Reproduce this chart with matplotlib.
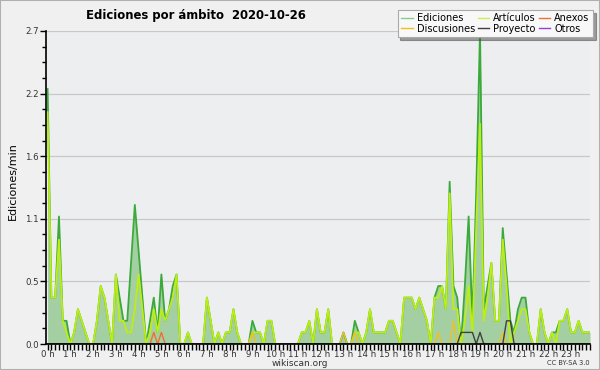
import numpy as np
import matplotlib
matplotlib.use("Agg")
import matplotlib.pyplot as plt
from matplotlib.ticker import FixedLocator, MultipleLocator, FuncFormatter
from matplotlib.lines import Line2D
from matplotlib.patches import Rectangle

# ediciones/min por tramo de 10 minutos (144 tramos)
ediciones = [
    2.2, 0.4, 0.4, 1.1, 0.2, 0.2, 0.0, 0.1, 0.3, 0.2, 0.1, 0.0,
    0.0, 0.2, 0.5, 0.4, 0.2, 0.0, 0.6, 0.4, 0.2, 0.2, 0.7, 1.2,
    0.8, 0.4, 0.0, 0.2, 0.4, 0.1, 0.6, 0.2, 0.3, 0.5, 0.6, 0.0,
    0.0, 0.1, 0.0, 0.0, 0.0, 0.0, 0.4, 0.2, 0.0, 0.1, 0.0, 0.1,
    0.1, 0.3, 0.1, 0.0, 0.0, 0.0, 0.2, 0.1, 0.1, 0.0, 0.2, 0.2,
    0.0, 0.0, 0.0, 0.0, 0.0, 0.0, 0.0, 0.1, 0.1, 0.2, 0.0, 0.3,
    0.1, 0.1, 0.3, 0.0, 0.0, 0.0, 0.1, 0.0, 0.0, 0.2, 0.1, 0.0,
    0.1, 0.3, 0.1, 0.1, 0.1, 0.1, 0.2, 0.2, 0.1, 0.0, 0.4, 0.4,
    0.4, 0.3, 0.4, 0.3, 0.2, 0.0, 0.4, 0.5, 0.5, 0.3, 1.4, 0.5,
    0.4, 0.0, 0.5, 1.1, 0.2, 1.3, 2.7, 0.3, 0.5, 0.7, 0.2, 0.2,
    1.0, 0.6, 0.2, 0.1, 0.3, 0.4, 0.4, 0.1, 0.0, 0.0, 0.3, 0.1,
    0.0, 0.1, 0.1, 0.2, 0.2, 0.3, 0.1, 0.1, 0.2, 0.1, 0.1, 0.1,
]
articulos = [
    2.0, 0.4, 0.4, 0.9, 0.2, 0.1, 0.0, 0.1, 0.3, 0.2, 0.1, 0.0,
    0.0, 0.2, 0.5, 0.4, 0.2, 0.0, 0.6, 0.2, 0.2, 0.1, 0.1, 0.3,
    0.6, 0.3, 0.0, 0.1, 0.3, 0.1, 0.3, 0.2, 0.3, 0.4, 0.6, 0.0,
    0.0, 0.1, 0.0, 0.0, 0.0, 0.0, 0.4, 0.2, 0.0, 0.1, 0.0, 0.1,
    0.1, 0.3, 0.1, 0.0, 0.0, 0.0, 0.1, 0.1, 0.1, 0.0, 0.2, 0.2,
    0.0, 0.0, 0.0, 0.0, 0.0, 0.0, 0.0, 0.1, 0.1, 0.2, 0.0, 0.3,
    0.1, 0.1, 0.3, 0.0, 0.0, 0.0, 0.0, 0.0, 0.0, 0.1, 0.1, 0.0,
    0.1, 0.3, 0.1, 0.1, 0.1, 0.1, 0.2, 0.2, 0.1, 0.0, 0.4, 0.4,
    0.4, 0.3, 0.4, 0.3, 0.2, 0.0, 0.4, 0.4, 0.5, 0.3, 1.3, 0.3,
    0.3, 0.0, 0.2, 0.5, 0.1, 1.0, 1.9, 0.2, 0.4, 0.7, 0.2, 0.2,
    0.9, 0.5, 0.0, 0.1, 0.2, 0.3, 0.3, 0.1, 0.0, 0.0, 0.3, 0.1,
    0.0, 0.1, 0.0, 0.2, 0.2, 0.3, 0.1, 0.1, 0.2, 0.1, 0.1, 0.1,
]
# series pequeñas: {tramo: valor}
discusiones_pts = {54: 0.1, 78: 0.1, 81: 0.1, 103: 0.1, 107: 0.2, 120: 0.1}
anexos_pts = {28: 0.1, 30: 0.1}
proyecto_pts = {109: 0.1, 110: 0.1, 111: 0.1, 112: 0.1, 114: 0.1, 121: 0.2, 122: 0.2}
otros_pts = {}

N_BINS = len(ediciones)
hours = np.arange(N_BINS) / 6.0


def expand(pts):
    s = np.zeros(N_BINS)
    for k, v in pts.items():
        s[k] = v
    return s


discusiones = expand(discusiones_pts)
anexos = expand(anexos_pts)
proyecto = expand(proyecto_pts)
otros = expand(otros_pts)

C_FILL = "#a3cfa3"
C_ED = "#3aaa3a"
C_ART = "#bdee14"
C_DIS = "#f0c020"
C_ANX = "#f07030"
C_PRO = "#404040"
C_OTR = "#9040e0"

fig = plt.figure(figsize=(6, 3.7), dpi=100, facecolor="#f0f0f0")
ax = fig.add_axes([46 / 600, 26 / 370, (590 - 46) / 600, (344 - 31) / 370])
ax.set_facecolor("#edeef0")

ax.fill_between(hours, ediciones, 0, color=C_FILL, lw=0, zorder=1)
ax.plot(hours, ediciones, color=C_ED, lw=1.3, zorder=2)
ax.plot(hours, articulos, color=C_ART, lw=1.3, zorder=3)
ax.plot(hours, anexos, color=C_ANX, lw=1.0, zorder=4)
ax.plot(hours, discusiones, color=C_DIS, lw=1.0, zorder=4)
ax.plot(hours, proyecto, color=C_PRO, lw=1.0, zorder=4)
ax.plot(hours, otros, color=C_OTR, lw=1.0, zorder=4)

ax.set_xlim(-0.07, hours[-1])
ax.set_ylim(0, 2.7)

# eje y: 5 divisiones del máximo
yt = np.linspace(0, 2.7, 6)
ax.yaxis.set_major_locator(FixedLocator(yt))
ax.yaxis.set_minor_locator(FixedLocator(np.arange(0, 2.71, 2.7 / 20)))
ax.yaxis.set_major_formatter(FuncFormatter(lambda v, p: f"{v:.1f}"))
ax.grid(axis="y", color="#c8c8c8", lw=0.9)
ax.set_axisbelow(True)

# eje x: horas, marcas menores cada 10 min
ax.xaxis.set_major_locator(MultipleLocator(1))
ax.xaxis.set_minor_locator(MultipleLocator(1 / 6))
ax.xaxis.set_major_formatter(FuncFormatter(lambda v, p: f"{int(round(v))} h"))

ax.tick_params(axis="both", which="both", direction="out", color="black", width=1)
ax.tick_params(axis="both", which="major", length=4, labelsize=6.2, labelcolor="#333333")
ax.tick_params(axis="x", which="major", pad=0.5)
ax.tick_params(axis="y", which="major", pad=1)
ax.tick_params(axis="x", which="minor", length=4)
ax.tick_params(axis="y", which="minor", length=3)

for side in ["top", "right"]:
    ax.spines[side].set_visible(False)
for side in ["left", "bottom"]:
    ax.spines[side].set_color("black")
    ax.spines[side].set_linewidth(1.2)
    ax.spines[side].set_zorder(5)

ax.set_ylabel("Ediciones/min", fontsize=8)
ax.yaxis.set_label_coords(-0.052, 0.52)

fig.text(86 / 600, 1 - 15 / 370, "Ediciones por ámbito  2020-10-26",
         fontsize=8.4, fontweight="bold", ha="left", va="center")
fig.text(300 / 600, 1 - 363 / 370, "wikiscan.org", fontsize=6.5, color="#333333",
         ha="center", va="center")
fig.text(590 / 600, 1 - 363 / 370, "CC BY-SA 3.0", fontsize=4.8, color="#333333",
         ha="right", va="center")

handles = [
    Line2D([], [], color="#88cc88", lw=1),
    Line2D([], [], color=C_DIS, lw=1),
    Line2D([], [], color="#ccee55", lw=1),
    Line2D([], [], color=C_PRO, lw=1),
    Line2D([], [], color=C_ANX, lw=1),
    Line2D([], [], color=C_OTR, lw=1),
]
labels = ["Ediciones", "Discusiones", "Artículos", "Proyecto", "Anexos", "Otros"]
leg = fig.legend(handles, labels, loc="upper right", bbox_to_anchor=(593 / 600, 1 - 10 / 370),
                 ncol=3, fontsize=7, frameon=True, fancybox=False, shadow=True,
                 handlelength=1.2, handletextpad=0.4, columnspacing=0.3,
                 labelspacing=0.05, borderpad=0.35, borderaxespad=0)
leg.get_frame().set_facecolor("#f8f8f8")
leg.get_frame().set_edgecolor("#aaaaaa")
leg.get_frame().set_linewidth(0.8)

fig.patches.append(Rectangle((0, 0), 1, 1, transform=fig.transFigure, fill=False,
                             edgecolor="#b0b0b0", lw=1.5))

fig.savefig("out.png", dpi=100, facecolor=fig.get_facecolor())
